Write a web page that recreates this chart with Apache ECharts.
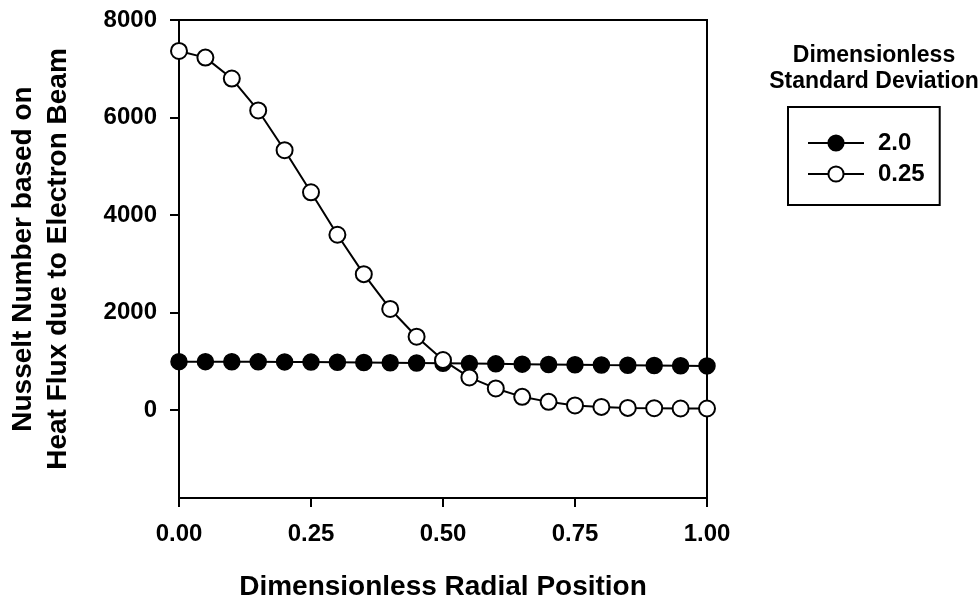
<!DOCTYPE html>
<html><head><meta charset="utf-8">
<script src="https://cdn.jsdelivr.net/npm/echarts@6/dist/echarts.min.js"></script>
<style>html,body{margin:0;padding:0;background:#fff}#c{width:980px;height:602px}</style>
</head><body><div id="c"></div>
<script>
const radialPos = [0.00,0.05,0.10,0.15,0.20,0.25,0.30,0.35,0.40,0.45,0.50,0.55,0.60,0.65,0.70,0.75,0.80,0.85,0.90,0.95,1.00];
const sd20 = [995,995,994,992,990,986,982,978,973,968,962,956,950,944,938,932,926,921,916,912,908];
const sd025 = [7365,7229,6800,6146,5330,4467,3597,2789,2076,1507,1028,672,446,274,171,97,68,47,41,35,35];
const yTicks = [0,2000,4000,6000,8000];
const xTicks = [0,0.25,0.5,0.75,1.0];
const seriesNames = ['2.0','0.25'];

const font = 'Liberation Sans, Arial, sans-serif';
const chart = echarts.init(document.getElementById('c'), null, {renderer:'canvas'});
chart.setOption({
  animation:false,
  backgroundColor:'#fff',
  grid:{left:179,right:273,top:20,bottom:104,containLabel:false,outerBoundsMode:'none',
    show:true,borderColor:'#000',borderWidth:2,backgroundColor:'transparent'},
  title:{text:'Dimensionless\nStandard Deviation',left:869,top:38,textAlign:'center',
    textStyle:{fontFamily:font,fontSize:23,fontWeight:'bold',color:'#000',lineHeight:26}},
  legend:{orient:'vertical',left:788,top:107,padding:[24,15,19,19],itemGap:7,
    borderColor:'#000',borderWidth:2,itemWidth:56,itemHeight:19,
    textStyle:{fontFamily:font,fontSize:24,fontWeight:'bold',color:'#000',lineHeight:24,padding:[0,0,0,9]},
    data:seriesNames},
  xAxis:{type:'value',min:0,max:1,interval:0.25,
    name:'Dimensionless Radial Position',nameLocation:'middle',nameGap:75,
    nameTextStyle:{fontFamily:font,fontSize:28,fontWeight:'bold',color:'#000'},
    axisLine:{onZero:false,lineStyle:{color:'#000',width:2}},
    axisTick:{show:true,inside:false,length:9,lineStyle:{color:'#000',width:2},customValues:xTicks},
    axisLabel:{margin:24,fontFamily:font,fontSize:24,fontWeight:'bold',color:'#000',
      customValues:xTicks,formatter:v=>v.toFixed(2)},
    splitLine:{show:false}},
  yAxis:{type:'value',min:-1800,max:8000,
    name:'Nusselt Number based on\nHeat Flux due to Electron Beam',nameLocation:'middle',nameGap:103,nameRotate:90,
    nameTextStyle:{fontFamily:font,fontSize:28,fontWeight:'bold',color:'#000',lineHeight:35},
    axisLine:{onZero:false,lineStyle:{color:'#000',width:2}},
    axisTick:{show:true,inside:false,length:9,lineStyle:{color:'#000',width:2},customValues:yTicks},
    axisLabel:{margin:22,fontFamily:font,fontSize:24,fontWeight:'bold',color:'#000',
      customValues:yTicks,formatter:v=>String(v)},
    splitLine:{show:false}},
  series:[
    {name:seriesNames[0],type:'line',data:radialPos.map((x,i)=>[x,sd20[i]]),
      symbol:'circle',symbolSize:16,lineStyle:{color:'#000',width:2},
      itemStyle:{color:'#000',borderColor:'#000',borderWidth:1.5},z:2},
    {name:seriesNames[1],type:'line',data:radialPos.map((x,i)=>[x,sd025[i]]),
      symbol:'circle',symbolSize:16,lineStyle:{color:'#000',width:2},
      itemStyle:{color:'#fff',borderColor:'#000',borderWidth:2},z:3}
  ]
});
</script></body></html>
